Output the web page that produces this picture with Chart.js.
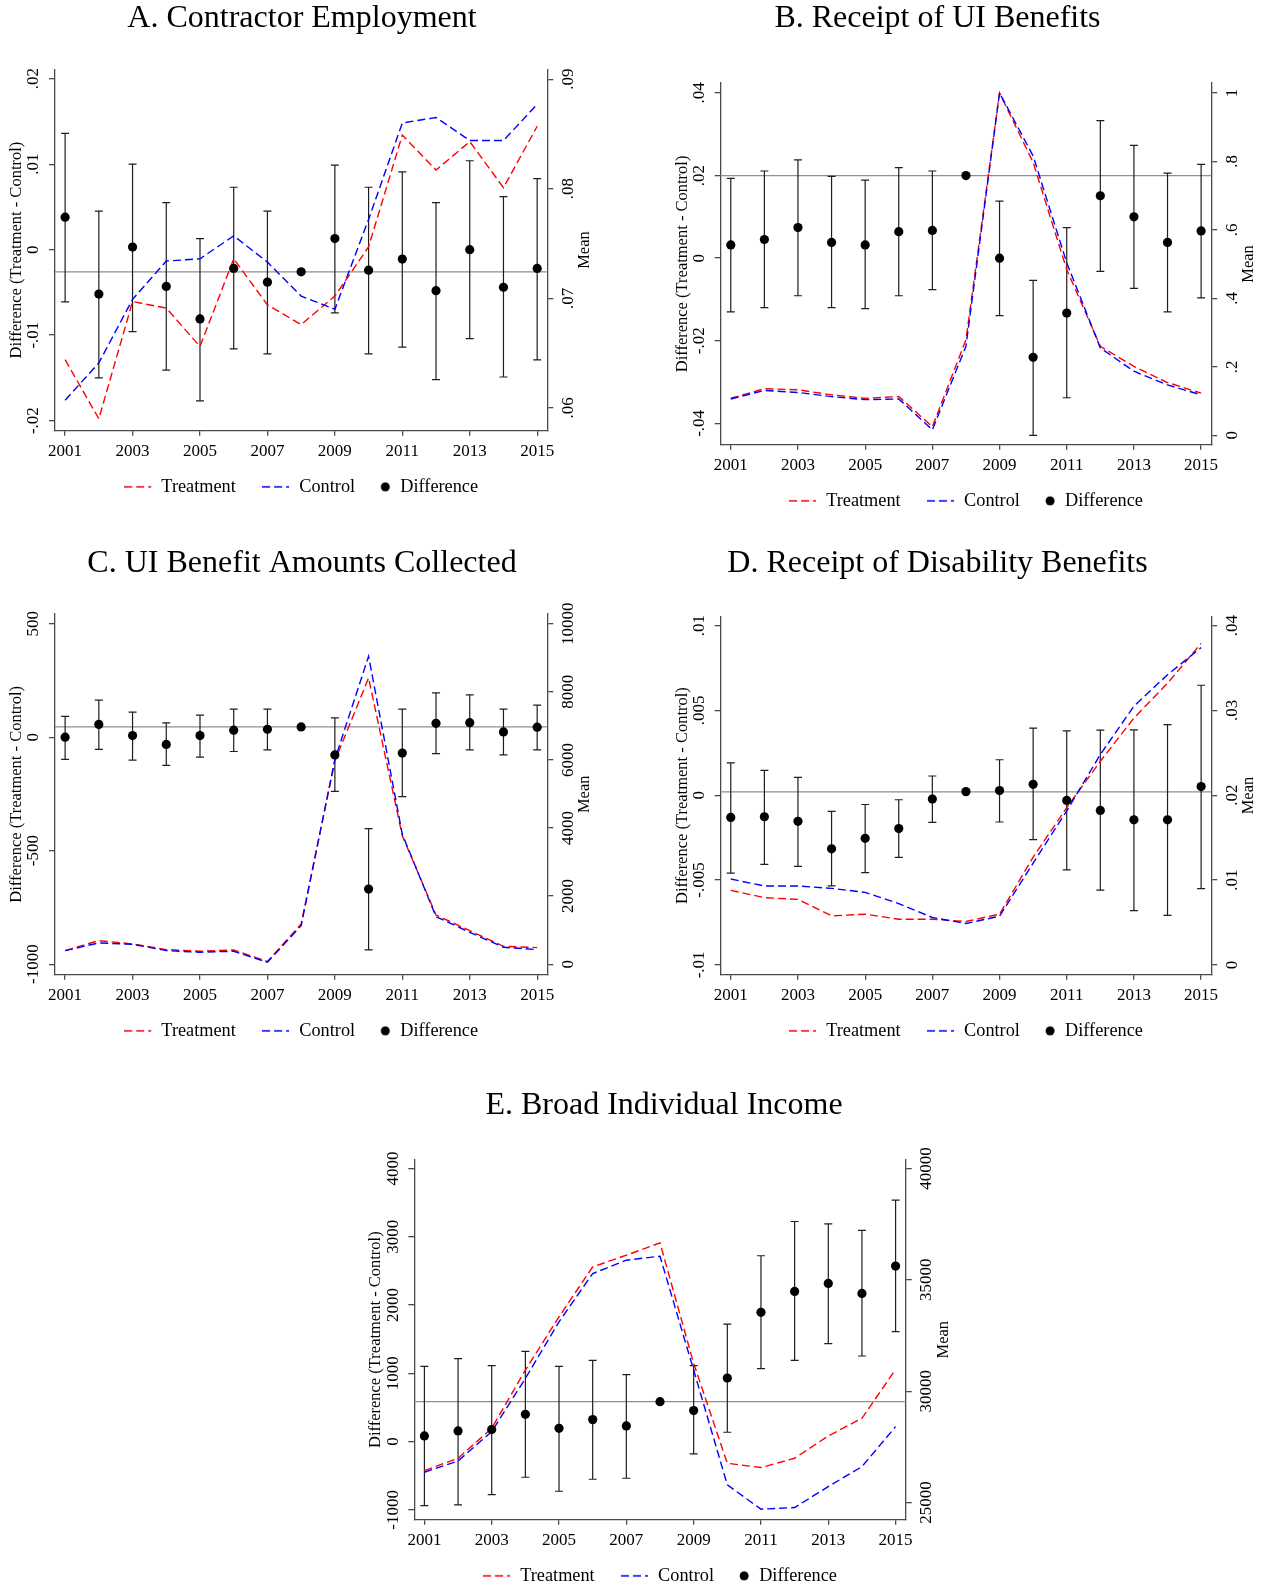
<!DOCTYPE html>
<html>
<head>
<meta charset="utf-8">
<script src="https://cdn.jsdelivr.net/npm/chart.js@4.4.1/dist/chart.umd.min.js"></script>
<style>
html,body{margin:0;padding:0;background:#fff;overflow:hidden;width:1266px;height:1587px;}
#root{position:relative;width:1266px;height:1587px;overflow:hidden;}
.panel{position:absolute;}
canvas{display:block;}
</style>
</head>
<body>
<div id="root"></div>
<script>
// ---------- shared ----------
const years = [2001,2002,2003,2004,2005,2006,2007,2008,2009,2010,2011,2012,2013,2014,2015];
const xTickValues = [2001,2003,2005,2007,2009,2011,2013,2015];
const seriesNames = ['Treatment','Control','Difference'];

// ---------- A. Contractor Employment ----------
const aTreat = [0.0644,0.0590,0.0697,0.0691,0.0656,0.0736,0.0694,0.0676,0.0702,0.0747,0.0849,0.0817,0.0843,0.0801,0.0857];
const aCtrl  = [0.0607,0.0641,0.0699,0.0734,0.0736,0.0757,0.0733,0.0702,0.0690,0.0772,0.0860,0.0865,0.0844,0.0844,0.0877];
const aDiff  = [0.0038,-0.0052,0.0003,-0.0043,-0.0081,-0.0022,-0.0038,-0.0026,0.0013,-0.0024,-0.0011,-0.0048,0.0000,-0.0044,-0.0022];
const aLo    = [-0.0061,-0.0150,-0.0096,-0.0141,-0.0177,-0.0116,-0.0122,null,-0.0074,-0.0122,-0.0114,-0.0152,-0.0104,-0.0149,-0.0129];
const aHi    = [0.0136,0.0045,0.0100,0.0055,0.0013,0.0073,0.0045,null,0.0099,0.0073,0.0091,0.0055,0.0104,0.0062,0.0083];
const aRef   = -0.0026;
const aLeftTicks  = [-0.02,-0.01,0,0.01,0.02];
const aLeftLabels = ['-.02','-.01','0','.01','.02'];
const aRightTicks  = [0.06,0.07,0.08,0.09];
const aRightLabels = ['.06','.07','.08','.09'];
const aLeftRange  = [-0.0212,0.0211];
const aRightRange = [0.0579,0.0909];

// ---------- B. Receipt of UI Benefits ----------
const bTreat = [0.108,0.136,0.133,0.118,0.108,0.113,0.025,0.279,1.000,0.797,0.484,0.260,0.201,0.154,0.123];
const bCtrl  = [0.106,0.131,0.125,0.113,0.104,0.106,0.016,0.260,1.000,0.816,0.504,0.255,0.187,0.147,0.118];
const bDiff  = [0.0032,0.0045,0.0074,0.0038,0.0032,0.0064,0.0067,0.0200,0.0000,-0.0240,-0.0133,0.0151,0.0100,0.0038,0.0066];
const bLo    = [-0.0130,-0.0120,-0.0091,-0.0120,-0.0122,-0.0091,-0.0076,null,-0.0139,-0.0429,-0.0338,-0.0032,-0.0073,-0.0130,-0.0096];
const bHi    = [0.0193,0.0211,0.0238,0.0198,0.0189,0.0219,0.0211,null,0.0138,-0.0054,0.0074,0.0333,0.0273,0.0206,0.0227];
const bRef   = 0.0200;
const bLeftTicks  = [-0.04,-0.02,0,0.02,0.04];
const bLeftLabels = ['-.04','-.02','0','.02','.04'];
const bRightTicks  = [0,0.2,0.4,0.6,0.8,1];
const bRightLabels = ['0','.2','.4','.6','.8','1'];
const bLeftRange  = [-0.0452,0.0424];
const bRightRange = [-0.028,1.029];

// ---------- C. UI Benefit Amounts Collected ----------
const cTreat = [400,693,596,430,381,420,78,1182,5967,8408,3770,1445,986,527,488];
const cCtrl  = [400,625,586,400,352,381,59,1133,6016,9043,3818,1396,938,498,430];
const cDiff  = [0,56,7,-32,7,31,35,45,-78,-669,-70,61,64,23,44];
const cLo    = [-98,-54,-101,-124,-88,-63,-56,null,-239,-937,-262,-72,-56,-78,-56];
const cHi    = [92,163,110,63,97,124,124,null,85,-403,124,195,186,124,141];
const cRef   = 45;
const cLeftTicks  = [-1000,-500,0,500];
const cLeftLabels = ['-1000','-500','0','500'];
const cRightTicks  = [0,2000,4000,6000,8000,10000];
const cRightLabels = ['0','2000','4000','6000','8000','10000'];
const cLeftRange  = [-1047,544];
const cRightRange = [-312,10293];

// ---------- D. Receipt of Disability Benefits ----------
const dTreat = [0.00879,0.00793,0.00773,0.00578,0.00598,0.00539,0.00539,0.00512,0.00598,0.0127,0.01855,0.0240,0.0291,0.0332,0.0379];
const dCtrl  = [0.01012,0.0093,0.0093,0.00902,0.00855,0.00723,0.00559,0.00488,0.00574,0.0120,0.01816,0.0248,0.0305,0.0342,0.0374];
const dDiff  = [-0.00131,-0.00127,-0.00154,-0.00316,-0.00254,-0.00197,-0.00023,0.00021,0.00027,0.00064,-0.00031,-0.0009,-0.00145,-0.00145,0.00051];
const dLo    = [-0.00459,-0.00408,-0.0042,-0.00535,-0.00457,-0.00367,-0.0016,null,-0.00158,-0.00262,-0.0044,-0.0056,-0.0068,-0.00709,-0.00551];
const dHi    = [0.00191,0.00146,0.00105,-0.00096,-0.00055,-0.00027,0.00113,null,0.00209,0.00395,0.00379,0.00383,0.00385,0.00416,0.00648];
const dRef   = 0.0002;
const dLeftTicks  = [-0.01,-0.005,0,0.005,0.01];
const dLeftLabels = ['-.01','-.005','0','.005','.01'];
const dRightTicks  = [0,0.01,0.02,0.03,0.04];
const dRightLabels = ['0','.01','.02','.03','.04'];
const dLeftRange  = [-0.01059,0.01055];
const dRightRange = [-0.00117,0.0411];

// ---------- E. Broad Individual Income ----------
const eTreat = [26435,26988,28333,30949,33341,35583,36106,36659,31248,26764,26570,26988,27990,28782,30979];
const eCtrl  = [26360,26868,28184,30575,33117,35284,35882,36061,30949,25792,24701,24776,25717,26614,28408];
const eDiff  = [83,156,176,400,195,322,229,585,454,932,1893,2200,2317,2171,2571];
const eLo    = [-937,-927,-776,-522,-727,-551,-537,null,-180,137,1068,1190,1434,1254,1610];
const eHi    = [1102,1215,1112,1322,1102,1190,980,null,1112,1722,2722,3224,3190,3093,3537];
const eRef   = 585;
const eLeftTicks  = [-1000,0,1000,2000,3000,4000];
const eLeftLabels = ['-1000','0','1000','2000','3000','4000'];
const eRightTicks  = [25000,30000,35000,40000];
const eRightLabels = ['25000','30000','35000','40000'];
const eLeftRange  = [-1146,4132];
const eRightRange = [24222,40404];

// ---------- styling / layout ----------
const FONT = "'Liberation Serif', 'Times New Roman', serif";
const TICK = 17, AXT = 16.5, LEG = 18.3, TTL = 32;
const AXIS_COLOR = '#4a4a4a';
const xRange = [2000.7, 2015.3];
const LEG_PAD = 8;          // legend label padding
const LEG_BOX = 28;         // legend symbol box width
const X_AXIS_H = 56 - LEG_PAD - LEG / 2;   // legend text centre sits 56px below the plot

Chart.defaults.font.family = FONT;
Chart.defaults.color = '#000';

const panels = [
  {title:'A. Contractor Employment', treat:aTreat, ctrl:aCtrl, diff:aDiff, lo:aLo, hi:aHi, ref:aRef,
   lt:aLeftTicks, ll:aLeftLabels, rt:aRightTicks, rl:aRightLabels, lr:aLeftRange, rr:aRightRange,
   g:{x0:0, W:604, axL:55, axR:547.3, top:69.6, bottom:431.3, titleY:18.5}},
  {title:'B. Receipt of UI Benefits', treat:bTreat, ctrl:bCtrl, diff:bDiff, lo:bLo, hi:bHi, ref:bRef,
   lt:bLeftTicks, ll:bLeftLabels, rt:bRightTicks, rl:bRightLabels, lr:bLeftRange, rr:bRightRange,
   g:{x0:612, W:651.2, axL:720.7, axR:1211.4, top:83.3, bottom:444.7, titleY:18.5}},
  {title:'C. UI Benefit Amounts Collected', treat:cTreat, ctrl:cCtrl, diff:cDiff, lo:cLo, hi:cHi, ref:cRef,
   lt:cLeftTicks, ll:cLeftLabels, rt:cRightTicks, rl:cRightLabels, lr:cLeftRange, rr:cRightRange,
   g:{x0:0, W:604, axL:55, axR:547.3, top:613.5, bottom:975, titleY:563}},
  {title:'D. Receipt of Disability Benefits', treat:dTreat, ctrl:dCtrl, diff:dDiff, lo:dLo, hi:dHi, ref:dRef,
   lt:dLeftTicks, ll:dLeftLabels, rt:dRightTicks, rl:dRightLabels, lr:dLeftRange, rr:dRightRange,
   g:{x0:612, W:651.2, axL:720.7, axR:1211.4, top:616, bottom:974.5, titleY:563}},
  {title:'E. Broad Individual Income', treat:eTreat, ctrl:eCtrl, diff:eDiff, lo:eLo, hi:eHi, ref:eRef,
   lt:eLeftTicks, ll:eLeftLabels, rt:eRightTicks, rl:eRightLabels, lr:eLeftRange, rr:eRightRange,
   g:{x0:354, W:620, axL:414.3, axR:905.7, top:1159.3, bottom:1520, titleY:1105}}
];

const measureCtx = document.createElement('canvas').getContext('2d');
function widest(labels){
  measureCtx.font = TICK + 'px ' + FONT;
  return Math.max(...labels.map(l => measureCtx.measureText(l).width));
}

function dashIcon(color){
  const c = document.createElement('canvas'); c.width = LEG_BOX; c.height = 6;
  const g = c.getContext('2d'); g.strokeStyle = color; g.lineWidth = 1.5;
  g.setLineDash([8,4]); g.beginPath(); g.moveTo(0,3); g.lineTo(27,3); g.stroke();
  return c;
}
function dotIcon(){
  const c = document.createElement('canvas'); c.width = LEG_BOX; c.height = 12;
  const g = c.getContext('2d'); g.fillStyle = '#000';
  g.beginPath(); g.arc(LEG_BOX + LEG/2 - 15, 6, 4.5, 0, Math.PI*2); g.fill();
  return c;
}
const legendIcons = [dashIcon('#ff0000'), dashIcon('#0000ff'), dotIcon()];
// extra trailing space after the first legend entry (wider gap in the original)
const legendSuffix = ['    ', '', ''];

const errorBarPlugin = {
  id: 'errorBars',
  beforeDatasetsDraw(chart, args, opts){
    const {ctx, chartArea} = chart;
    const xs = chart.scales.x, ys = chart.scales.y;
    ctx.save();
    ctx.strokeStyle = '#8f8f8f'; ctx.lineWidth = 1.2;
    const yr = ys.getPixelForValue(opts.ref);
    ctx.beginPath(); ctx.moveTo(chartArea.left, yr); ctx.lineTo(chartArea.right, yr); ctx.stroke();
    ctx.strokeStyle = '#1e1e1e'; ctx.lineWidth = 1.2;
    years.forEach((yv, i) => {
      if (opts.lo[i] == null) return;
      const x = xs.getPixelForValue(yv);
      const y1 = ys.getPixelForValue(opts.lo[i]);
      const y2 = ys.getPixelForValue(opts.hi[i]);
      ctx.beginPath();
      ctx.moveTo(x, y1); ctx.lineTo(x, y2);
      ctx.moveTo(x-4, y1); ctx.lineTo(x+4, y1);
      ctx.moveTo(x-4, y2); ctx.lineTo(x+4, y2);
      ctx.stroke();
    });
    ctx.restore();
  }
};
const meanTitlePlugin = {
  id: 'meanTitle',
  afterDraw(chart, args, opts){
    const {ctx, chartArea} = chart;
    ctx.save();
    ctx.font = AXT + 'px ' + FONT;
    ctx.fillStyle = '#000';
    ctx.textAlign = 'center'; ctx.textBaseline = 'middle';
    ctx.translate(chartArea.right + opts.offset, (chartArea.top + chartArea.bottom)/2);
    ctx.rotate(-Math.PI/2);
    ctx.fillText(opts.text, 0, 0);
    ctx.restore();
  }
};

function yScale(ticks, labels, range, position, width, titleOpts){
  const pad = 15 - widest(labels)/2;
  return {
    type:'linear', position, min:range[0], max:range[1],
    afterBuildTicks: s => { s.ticks = ticks.map(v => ({value:v})); },
    afterFit: s => { s.width = width; },
    ticks:{ callback:(v,i) => labels[i], minRotation:90, maxRotation:90, crossAlign:'center',
            padding:pad, autoSkip:false, font:{size:TICK}, color:'#000' },
    grid:{ drawOnChartArea:false, drawTicks:true, tickLength:6, color:AXIS_COLOR, lineWidth:1.3 },
    border:{ display:true, color:AXIS_COLOR, width:1.3 },
    title: titleOpts
  };
}

const root = document.getElementById('root');
panels.forEach(p => {
  const g = p.g;
  const y0 = g.titleY - TTL*1.2/2;
  const legendH = LEG + LEG_PAD + 10;
  const H = g.bottom + X_AXIS_H + legendH - y0;
  const wL = g.axL - g.x0;
  const wR = g.x0 + g.W - g.axR;
  const axisTitlePad = (g.axL - 38.5) - g.x0 - AXT*1.2/2;

  const div = document.createElement('div');
  div.className = 'panel';
  div.style.left = g.x0 + 'px'; div.style.top = y0 + 'px';
  const cv = document.createElement('canvas');
  cv.width = Math.round(g.W); cv.height = Math.round(H);
  cv.style.width = Math.round(g.W) + 'px'; cv.style.height = Math.round(H) + 'px';
  div.appendChild(cv); root.appendChild(div);

  new Chart(cv.getContext('2d'), {
    data:{
      datasets:[
        {type:'line', label:seriesNames[0], yAxisID:'y1', data:years.map((x,i)=>({x, y:p.treat[i]})),
         borderColor:'#ff0000', backgroundColor:'#ff0000', borderDash:[8,4], borderWidth:1.4,
         pointRadius:0, tension:0, order:3},
        {type:'line', label:seriesNames[1], yAxisID:'y1', data:years.map((x,i)=>({x, y:p.ctrl[i]})),
         borderColor:'#0000ff', backgroundColor:'#0000ff', borderDash:[8,4], borderWidth:1.4,
         pointRadius:0, tension:0, order:2},
        {type:'line', label:seriesNames[2], yAxisID:'y', data:years.map((x,i)=>({x, y:p.diff[i]})),
         showLine:false, pointRadius:4.6, pointStyle:'circle', backgroundColor:'#000', borderColor:'#000',
         borderWidth:0, order:1}
      ]
    },
    options:{
      responsive:false, animation:false, devicePixelRatio:1,
      layout:{ padding:0 },
      scales:{
        x:{ type:'linear', position:'bottom', min:xRange[0], max:xRange[1],
            afterBuildTicks: s => { s.ticks = xTickValues.map(v => ({value:v})); },
            afterFit: s => { s.height = X_AXIS_H; },
            ticks:{ callback:v => String(v), autoSkip:false, maxRotation:0, minRotation:0,
                    padding: 21 - 5 - TICK*1.2/2, font:{size:TICK}, color:'#000' },
            grid:{ drawOnChartArea:false, drawTicks:true, tickLength:5, color:AXIS_COLOR, lineWidth:1.3 },
            border:{ display:true, color:AXIS_COLOR, width:1.3 } },
        y: yScale(p.lt, p.ll, p.lr, 'left', wL,
             {display:true, text:'Difference (Treatment - Control)', font:{size:AXT}, color:'#000',
              padding:{top:axisTitlePad, bottom:0}}),
        y1: yScale(p.rt, p.rl, p.rr, 'right', wR, {display:false})
      },
      plugins:{
        title:{ display:true, text:p.title, font:{size:TTL, weight:'normal'}, color:'#000',
                padding:{top:0, bottom:g.top - y0 - TTL*1.2} },
        legend:{ display:true, position:'bottom', fullSize:false,
                 labels:{ usePointStyle:true, pointStyleWidth:LEG_BOX, padding:LEG_PAD, font:{size:LEG}, color:'#000',
                          generateLabels: chart => {
                            const items = Chart.defaults.plugins.legend.labels.generateLabels(chart);
                            items.forEach(it => {
                              it.pointStyle = legendIcons[it.datasetIndex];
                              it.lineDash = [];
                              it.text = seriesNames[it.datasetIndex] + legendSuffix[it.datasetIndex];
                            });
                            return items;
                          },
                          sort:(a,b) => a.datasetIndex - b.datasetIndex } },
        tooltip:{ enabled:false },
        errorBars:{ lo:p.lo, hi:p.hi, ref:p.ref },
        meanTitle:{ text:'Mean', offset:37.7 }
      }
    },
    plugins:[errorBarPlugin, meanTitlePlugin]
  });
});
</script>
</body>
</html>
